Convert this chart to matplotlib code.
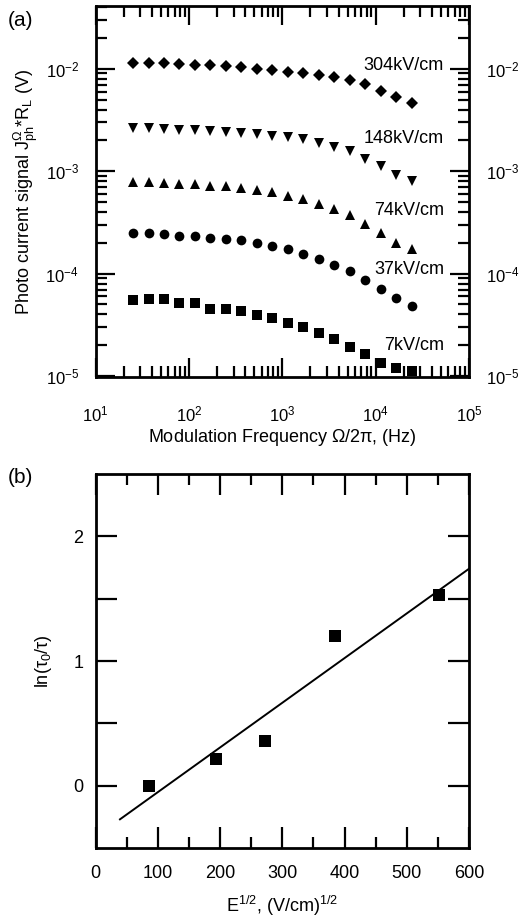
import matplotlib
matplotlib.use("Agg")
import matplotlib.pyplot as plt
import numpy as np

plt.rcParams["font.family"] = ["Liberation Sans", "DejaVu Sans"]
plt.rcParams["mathtext.fontset"] = "custom"
plt.rcParams["mathtext.rm"] = "Liberation Sans"
plt.rcParams["mathtext.it"] = "Liberation Sans:italic"
plt.rcParams["mathtext.default"] = "regular"

# panel (a): modulation frequency sweep
freq = [25, 37, 54, 79, 115, 169, 247, 362, 531, 778, 1140, 1670,
        2450, 3590, 5260, 7710, 11300, 16600, 24300]
sig_304 = [1.15e-2, 1.13e-2, 1.13e-2, 1.11e-2, 1.09e-2, 1.08e-2, 1.06e-2,
           1.03e-2, 9.93e-3, 9.71e-3, 9.35e-3, 9.07e-3, 8.73e-3, 8.22e-3,
           7.80e-3, 7.08e-3, 6.08e-3, 5.31e-3, 4.68e-3]
sig_148 = [2.62e-3, 2.62e-3, 2.58e-3, 2.54e-3, 2.51e-3, 2.47e-3, 2.43e-3,
           2.36e-3, 2.31e-3, 2.23e-3, 2.15e-3, 2.05e-3, 1.89e-3, 1.72e-3,
           1.57e-3, 1.33e-3, 1.12e-3, 9.28e-4, 7.98e-4]
sig_74 = [7.80e-4, 7.80e-4, 7.68e-4, 7.57e-4, 7.46e-4, 7.24e-4, 7.13e-4,
          6.81e-4, 6.51e-4, 6.23e-4, 5.78e-4, 5.35e-4, 4.82e-4, 4.27e-4,
          3.76e-4, 3.07e-4, 2.52e-4, 2.01e-4, 1.73e-4]
sig_37 = [2.52e-4, 2.48e-4, 2.43e-4, 2.34e-4, 2.31e-4, 2.22e-4, 2.17e-4,
          2.11e-4, 1.98e-4, 1.87e-4, 1.73e-4, 1.56e-4, 1.40e-4, 1.22e-4,
          1.05e-4, 8.67e-5, 7.02e-5, 5.73e-5, 4.85e-5]
sig_7 = [5.52e-5, 5.60e-5, 5.60e-5, 5.20e-5, 5.12e-5, 4.51e-5, 4.51e-5,
         4.31e-5, 3.93e-5, 3.70e-5, 3.33e-5, 3.02e-5, 2.64e-5, 2.29e-5,
         1.92e-5, 1.63e-5, 1.34e-5, 1.20e-5, 1.11e-5]

field_labels = ["304kV/cm", "148kV/cm", "74kV/cm", "37kV/cm", "7kV/cm"]
label_y = [1.07e-2, 2.07e-3, 4.15e-4, 1.10e-4, 2.01e-5]

# panel (b): ln(tau0/tau) vs sqrt(E)
sqrt_e = [86, 193, 272, 384, 551]
ln_ratio = [0.0, 0.21, 0.36, 1.20, 1.53]
fit_x = [39, 600]
fit_y = [-0.27, 1.74]

W, H = 519, 924
fig = plt.figure(figsize=(W / 100, H / 100), dpi=100)
ax1 = fig.add_axes([95.7 / W, 1 - 377 / H, 373.3 / W, 371 / H])
ax2 = fig.add_axes([95.7 / W, 1 - 848 / H, 373.3 / W, 374 / H])

lw_spine = 2.0
fs = 13

series = [(sig_304, "D", 6.2), (sig_148, "v", 7.5), (sig_74, "^", 7.5),
          (sig_37, "o", 7.0), (sig_7, "s", 6.5)]
for vals, mk, ms in series:
    ax1.plot(freq, vals, linestyle="none", marker=mk, ms=ms,
             color="black", markeredgewidth=0)

for lab, yy in zip(field_labels, label_y):
    ax1.text(54000, yy, lab, ha="right", va="center", fontsize=fs)

ax1.set_xscale("log")
ax1.set_yscale("log")
ax1.set_xlim(10, 1e5)
ax1.set_ylim(9.8e-6, 4.1e-2)
ax1.set_xlabel(r"Modulation Frequency $\Omega/2\pi$, (Hz)", fontsize=fs,
               labelpad=2)
ax1.set_ylabel(r"Photo current signal J$_{ph}^{\Omega}$*R$_L$ (V)",
               fontsize=fs, labelpad=4)
ax1.tick_params(axis="both", which="both", direction="in", top=True,
                right=True, width=1.6, labelsize=12)
ax1.tick_params(axis="both", which="major", length=14)
ax1.tick_params(axis="both", which="minor", length=8)
ax1.tick_params(axis="y", which="both", labelright=True, pad=12)
ax1.tick_params(axis="x", which="both", pad=20)
for s in ax1.spines.values():
    s.set_linewidth(lw_spine)

ax2.plot(fit_x, fit_y, color="black", lw=1.4)
ax2.plot(sqrt_e, ln_ratio, linestyle="none", marker="s", ms=8.5,
         color="black", markeredgewidth=0)
ax2.set_xlim(0, 600)
ax2.set_ylim(-0.5, 2.5)
ax2.set_xticks([0, 100, 200, 300, 400, 500, 600])
ax2.set_xticks([50, 150, 250, 350, 450, 550], minor=True)
ax2.set_yticks([0, 0.5, 1, 1.5, 2])
ax2.set_yticklabels(["0", "", "1", "", "2"])
ax2.set_xlabel(r"E$^{1/2}$, (V/cm)$^{1/2}$", fontsize=fs, labelpad=9)
ax2.set_ylabel(r"ln($\tau_0$/$\tau$)", fontsize=fs, labelpad=14)
ax2.tick_params(axis="both", which="both", direction="in", top=True,
                right=True, width=1.6, labelsize=fs)
ax2.tick_params(axis="both", which="major", length=15)
ax2.tick_params(axis="x", which="minor", length=8)
ax2.tick_params(axis="y", pad=9)
ax2.tick_params(axis="x", which="both", pad=12)
for s in ax2.spines.values():
    s.set_linewidth(lw_spine)

fig.text(8 / W, 1 - 20 / H, "(a)", fontsize=15, va="center", ha="left")
fig.text(8 / W, 1 - 478 / H, "(b)", fontsize=15, va="center", ha="left")

fig.savefig("out.png", dpi=100)
